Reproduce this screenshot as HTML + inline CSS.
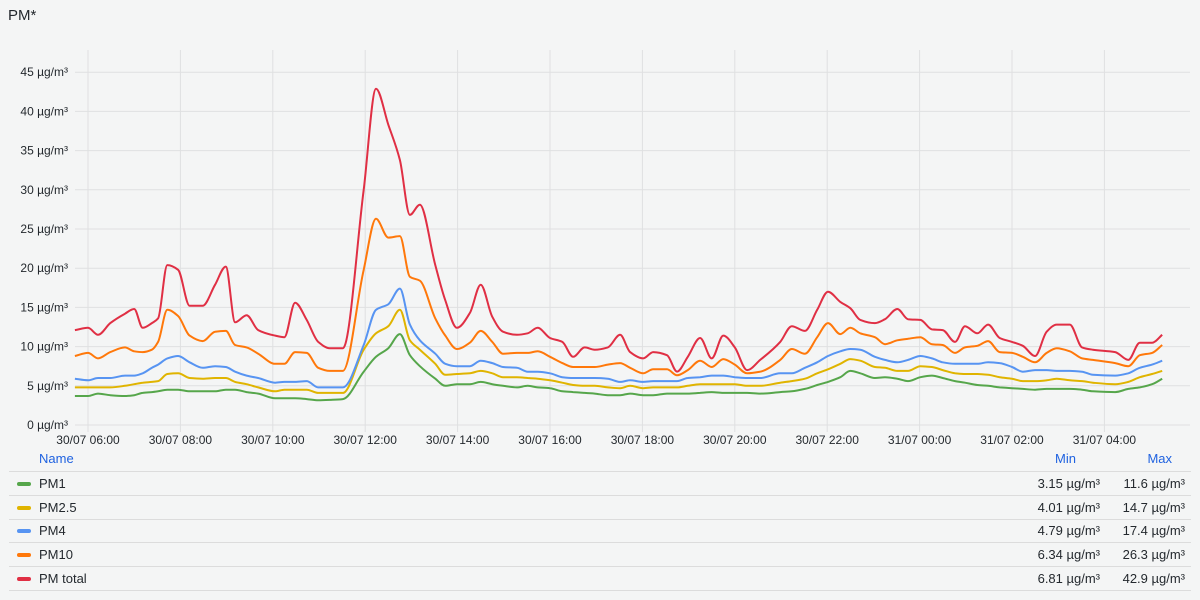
<!DOCTYPE html>
<html><head><meta charset="utf-8">
<style>
html,body{margin:0;padding:0;background:#f4f5f5;}
body{width:1200px;height:600px;overflow:hidden;position:relative;font-family:"Liberation Sans",sans-serif;color:#24292e;}
#title{position:absolute;left:8px;top:7px;font-size:15px;font-weight:500;}
svg{position:absolute;left:0;top:0;}
.lg{position:absolute;left:9px;width:1182px;height:23px;border-bottom:1px solid #dcdcdc;font-size:13px;}
.lg .sw{position:absolute;left:8px;top:10px;width:14px;height:4px;border-radius:2px;}
.lg .nm{position:absolute;left:30px;top:4px;}
.lg .mn{position:absolute;right:91px;top:4px;}
.lg .mx{position:absolute;right:6px;top:4px;}
#hdr{position:absolute;left:9px;top:451px;width:1182px;height:20px;border-bottom:1px solid #dcdcdc;font-size:13px;color:#1f62e0;}
</style></head>
<body>
<div id="title">PM*</div>
<svg id="chart" width="1200" height="450"></svg>
<div id="hdr">
  <span style="position:absolute;left:30px;top:0">Name</span>
  <span style="position:absolute;right:115px;top:0">Min</span>
  <span style="position:absolute;right:19px;top:0">Max</span>
</div>
<div id="legend"></div>
<script>
const times=[-17,0,13,29,48,60,71,83,91,103,117,132,149,165,179,191,206,221,243,255,269,284,299,314,331,358,374,390,405,418,431,451,464,479,
496,510,525,539,557,571,584,600,616,630,645,658,675,691,704,721,734,752,765,779,795,810,825,840,856,873,899,914,931,947,961,977,
990,1003,1022,1035,1051,1065,1081,1096,1110,1126,1139,1155,1169,1184,1200,1214,1230,1245,1258,1275,1291,1305,1334,1351,1366,1382,1395];
const pm1=[3.7,3.7,4.0,3.8,3.7,3.8,4.1,4.2,4.3,4.5,4.5,4.3,4.3,4.3,4.5,4.5,4.2,4.0,3.4,3.4,3.4,3.3,3.15,3.2,3.3,6.8,8.7,9.8,11.6,8.9,7.5,5.9,5.0,5.2,
5.2,5.5,5.2,5.0,4.8,5.0,4.8,4.7,4.3,4.2,4.1,4.0,3.8,3.8,4.0,3.8,3.8,4.0,4.0,4.0,4.1,4.2,4.1,4.1,4.1,4.0,4.2,4.3,4.6,5.1,5.5,6.1,
6.9,6.6,6.0,6.1,5.9,5.6,6.1,6.3,6.0,5.6,5.4,5.1,5.0,4.8,4.7,4.6,4.5,4.6,4.6,4.6,4.5,4.3,4.2,4.6,4.8,5.2,5.9];
const pm25=[4.8,4.8,4.8,4.8,5.0,5.2,5.4,5.5,5.6,6.5,6.6,6.0,5.9,6.0,6.0,5.5,5.2,4.8,4.3,4.5,4.5,4.5,4.1,4.1,4.1,9.6,11.7,12.6,14.7,10.8,9.6,7.8,6.4,6.5,
6.6,6.9,6.6,6.1,6.1,6.0,5.9,5.7,5.4,5.1,5.0,5.0,4.8,4.7,5.0,4.7,4.8,4.8,4.8,5.0,5.2,5.2,5.2,5.2,5.0,5.0,5.4,5.6,5.9,6.6,7.1,7.8,
8.4,8.2,7.4,7.3,6.9,6.9,7.5,7.4,7.0,6.6,6.5,6.5,6.4,6.1,5.9,5.6,5.6,5.7,5.9,5.7,5.6,5.4,5.2,5.5,6.1,6.5,6.9];
const pm4=[5.9,5.7,6.0,6.0,6.3,6.3,6.6,7.3,7.7,8.5,8.8,8.0,7.3,7.5,7.4,6.8,6.3,6.0,5.4,5.5,5.5,5.6,4.79,4.8,4.8,10.2,14.7,15.4,17.4,12.8,10.8,9.1,7.8,7.5,
7.5,8.2,7.9,7.4,7.3,6.8,6.8,6.6,6.1,6.0,6.0,6.0,5.9,5.5,5.7,5.5,5.6,5.6,5.6,6.0,6.1,6.3,6.3,6.1,6.0,6.0,6.6,6.6,7.3,8.0,8.8,9.4,
9.7,9.6,8.7,8.3,8.0,8.3,8.8,8.5,8.0,7.8,7.8,7.8,8.0,7.9,7.4,6.8,7.0,7.0,6.9,6.9,6.8,6.4,6.3,6.6,7.3,7.7,8.2];
const pm10=[8.8,9.2,8.5,9.3,9.9,9.4,9.3,9.6,10.6,14.7,13.9,11.4,10.7,11.9,12.0,10.2,9.9,9.1,7.8,7.8,9.3,9.2,7.3,6.9,6.9,19.8,26.3,23.9,24.1,18.9,18.4,13.6,11.4,9.7,
10.5,12.0,10.6,9.1,9.2,9.2,9.4,8.7,7.9,7.4,7.4,7.4,7.7,7.9,7.3,6.6,7.1,7.1,6.34,7.0,8.2,7.4,8.4,7.7,6.6,6.8,8.3,9.7,9.1,11.2,13.0,11.6,
12.4,11.7,11.2,10.3,10.8,11.0,11.2,10.3,10.2,9.2,9.9,10.1,10.7,9.3,9.2,8.7,8.0,9.2,9.8,9.4,8.5,8.3,7.9,7.5,8.9,9.2,10.2];
const pmTotal=[12.1,12.4,11.5,13.0,14.2,14.8,12.4,13.0,13.6,20.4,19.8,15.2,15.2,17.9,20.2,13.1,14.0,12.1,11.4,11.2,15.6,13.4,10.6,9.8,9.8,30.0,42.9,38.3,33.8,26.8,28.1,20.4,15.9,12.4,
14.3,17.9,13.8,11.9,11.5,11.7,12.4,11.1,10.6,8.7,9.9,9.6,9.9,11.5,9.3,8.5,9.3,8.9,6.81,8.7,11.1,8.5,11.4,9.9,7.0,8.3,10.6,12.6,12.0,14.7,17.0,15.7,
14.9,13.4,13.0,13.5,14.8,13.5,13.4,12.2,12.1,10.6,12.6,11.7,12.8,11.1,10.6,10.1,8.8,11.9,12.8,12.8,9.9,9.6,9.3,8.3,10.5,10.5,11.5];
const yTicks=[0,5,10,15,20,25,30,35,40,45];
const xTickLabels=["30/07 06:00","30/07 08:00","30/07 10:00","30/07 12:00","30/07 14:00","30/07 16:00","30/07 18:00","30/07 20:00","30/07 22:00","31/07 00:00","31/07 02:00","31/07 04:00"];
const xTickTimes=[0,120,240,360,480,600,720,840,960,1080,1200,1320];
const seriesNames=["PM1","PM2.5","PM4","PM10","PM total"];
const seriesColors=["#56a64b","#e0b400","#5794f2","#ff780a","#e02f44"];
const minLabels=["3.15 µg/m³","4.01 µg/m³","4.79 µg/m³","6.34 µg/m³","6.81 µg/m³"];
const maxLabels=["11.6 µg/m³","14.7 µg/m³","17.4 µg/m³","26.3 µg/m³","42.9 µg/m³"];
const allSeries=[pm1,pm25,pm4,pm10,pmTotal];

const X=t=>88+t*46.2/60;
const Y=v=>425-v*7.84;
const NS="http://www.w3.org/2000/svg";
const svg=document.getElementById('chart');
function mk(tag,attrs){const e=document.createElementNS(NS,tag);for(const k in attrs)e.setAttribute(k,attrs[k]);svg.appendChild(e);return e;}
yTicks.forEach(v=>{
  const l=mk('line',{x1:75,x2:1190,y1:Y(v),y2:Y(v),stroke:'#dfe0e1','stroke-width':1});
  
  
  const t=mk('text',{x:68,y:Y(v)+4,'text-anchor':'end','font-size':12,fill:'#24292e'});
  t.textContent=v+' µg/m³';
  
  
});
xTickTimes.forEach((tt,i)=>{
  const l=mk('line',{x1:X(tt),x2:X(tt),y1:50,y2:432,stroke:'#dfe0e1','stroke-width':1});
  
  
  const t=mk('text',{x:X(tt),y:444,'text-anchor':'middle','font-size':12,fill:'#24292e'});
  t.textContent=xTickLabels[i];
  
  
});
function pathFor(vals){
  const xs=times.map(X), ys=vals.map(Y), n=xs.length;
  const dx=[],m=[],t=[];
  for(let i=0;i<n-1;i++){dx[i]=xs[i+1]-xs[i];m[i]=(ys[i+1]-ys[i])/dx[i];}
  t[0]=m[0];t[n-1]=m[n-2];
  for(let i=1;i<n-1;i++){
    if(m[i-1]*m[i]<=0)t[i]=0;
    else{const w1=2*dx[i]+dx[i-1],w2=dx[i]+2*dx[i-1];t[i]=(w1+w2)/(w1/m[i-1]+w2/m[i]);}
  }
  let d='M'+xs[0].toFixed(1)+','+ys[0].toFixed(1);
  for(let i=0;i<n-1;i++){
    const h=dx[i]/3;
    d+=' C'+(xs[i]+h).toFixed(1)+','+(ys[i]+t[i]*h).toFixed(1)+' '+(xs[i+1]-h).toFixed(1)+','+(ys[i+1]-t[i+1]*h).toFixed(1)+' '+xs[i+1].toFixed(1)+','+ys[i+1].toFixed(1);
  }
  return d;
}
allSeries.forEach((s,i)=>{
  const e=mk('path',{d:pathFor(s),fill:'none',stroke:seriesColors[i],'stroke-width':2,'stroke-linejoin':'round'});
  
  
});
const lg=document.getElementById('legend');
seriesNames.forEach((n,i)=>{
  const r=document.createElement('div');
  r.className='lg';r.style.top=(472+i*23.7)+'px';
  
  
  r.innerHTML='<span class="sw" style="background:'+seriesColors[i]+'"></span><span class="nm">'+n+'</span><span class="mn">'+minLabels[i]+'</span><span class="mx">'+maxLabels[i]+'</span>';
  lg.appendChild(r);
});
</script>
</body></html>
